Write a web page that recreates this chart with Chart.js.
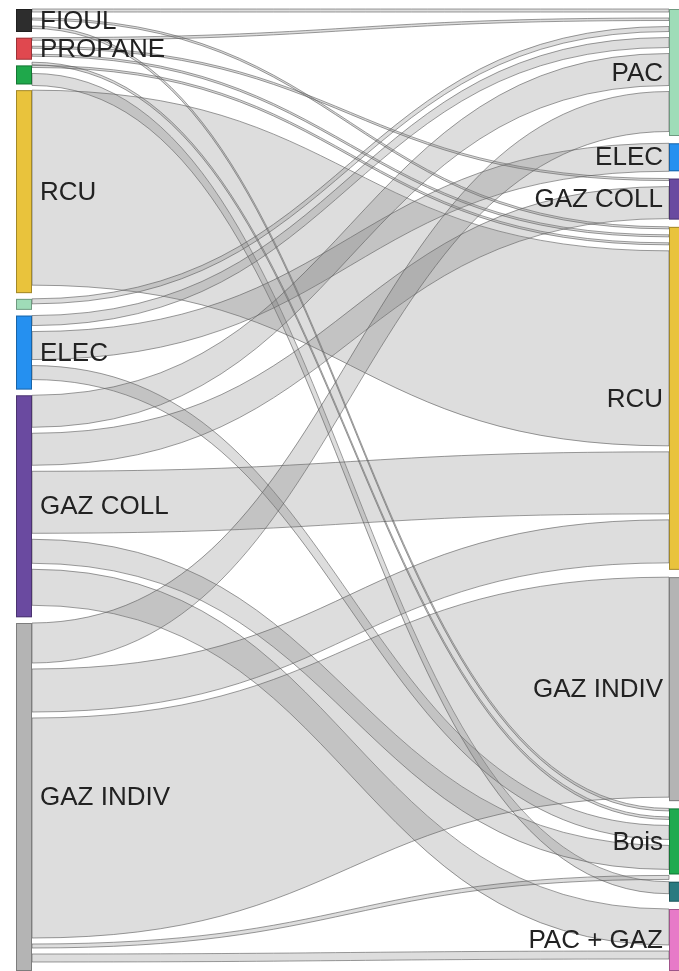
<!doctype html>
<html>
	<head>
		<title>Sankey</title>
		<script src="https://cdn.jsdelivr.net/npm/chart.js@4.4.1/dist/chart.umd.min.js"></script>
		<style>
			body { margin: 0; background: #fff; }
			#wrap { width: 679px; height: 971px; }
		</style>
	</head>
	<body>
		<div id="wrap"><canvas id="canvas"></canvas></div>

	<script>
	// nodes, left column (top to bottom)
	var leftNodes = ["FIOUL", "PROPANE", "Bois", "RCU", "PAC", "ELEC", "GAZ COLL", "GAZ INDIV"];
	var leftSizes = [23, 22, 19, 203, 11, 74, 222, 348];
	var leftColors = ["#2d2d2d", "#e0484f", "#1fa84b", "#e9c33c", "#9fdcb8", "#2590f0", "#6a4aa0", "#b4b4b4"];

	// nodes, right column
	var rightNodes = ["PAC", "ELEC", "GAZ COLL", "RCU", "GAZ INDIV", "Bois", "", "PAC + GAZ"];
	var rightSizes = [127, 28, 41, 343, 224, 66, 20, 62];
	var rightColors = ["#9fdcb8", "#2590f0", "#6a4aa0", "#e9c33c", "#b4b4b4", "#20aa50", "#2a7a80", "#e77ac8"];

	// flows (index in left column -> index in right column)
	var flowFrom   = [0, 0, 0,   1,   1, 1, 1,   2, 2,  3,   4, 5,  5,  5,  6,  6,  6,  6,  6,  7,  7,  7,   7, 7];
	var flowTo     = [0, 3, 5,   0,   2, 3, 5,   3, 6,  3,   0, 0,  1,  5,  0,  2,  3,  5,  7,  0,  3,  4,   5, 7];
	var flowValues = [3, 2, 2.5, 2.5, 2, 2, 2.5, 2, 12, 195, 5, 10, 28, 14, 32, 32, 62, 24, 36, 40, 43, 220, 4, 8];

	var extent = 962;
	var nodeWidth = 16;
	var linkGap = 6;

	function stackTops(sizes) {
		var sum = 0;
		sizes.forEach(function(s){ sum += s; });
		var pad = (extent - sum) / (sizes.length - 1);
		var tops = [], y = 0;
		sizes.forEach(function(s){ tops.push(y); y += s + pad; });
		return tops;
	}

	var sankeyPlugin = {
		id: 'sankey',
		afterDraw: function(chart) {
			var ctx = chart.ctx;
			var xs = chart.scales.x, ys = chart.scales.y;
			var xl = xs.getPixelForValue(0), xr = xs.getPixelForValue(1);
			var leftTops = stackTops(leftSizes), rightTops = stackTops(rightSizes);

			// where each flow leaves / arrives
			var idx = flowValues.map(function(v, i){ return i; });
			var srcY = [], dstY = [];
			leftNodes.forEach(function(n, s){
				var y = leftTops[s];
				idx.filter(function(i){ return flowFrom[i] === s; })
					.sort(function(a, b){ return flowTo[a] - flowTo[b]; })
					.forEach(function(i){ srcY[i] = y; y += flowValues[i] + linkGap; });
			});
			rightNodes.forEach(function(n, t){
				var y = rightTops[t];
				idx.filter(function(i){ return flowTo[i] === t; })
					.sort(function(a, b){ return flowFrom[a] - flowFrom[b]; })
					.forEach(function(i){ dstY[i] = y; y += flowValues[i] + linkGap; });
			});

			ctx.save();
			var xa = xl + nodeWidth, xb = xr, xm = (xa + xb) / 2;
			idx.forEach(function(i){
				var a0 = ys.getPixelForValue(srcY[i]), a1 = ys.getPixelForValue(srcY[i] + flowValues[i]);
				var b0 = ys.getPixelForValue(dstY[i]), b1 = ys.getPixelForValue(dstY[i] + flowValues[i]);
				ctx.beginPath();
				ctx.moveTo(xa, a0);
				ctx.bezierCurveTo(xm, a0, xm, b0, xb, b0);
				ctx.lineTo(xb, b1);
				ctx.bezierCurveTo(xm, b1, xm, a1, xa, a1);
				ctx.closePath();
				ctx.fillStyle = 'rgba(120,120,120,0.25)';
				ctx.fill();
				ctx.lineWidth = 1;
				ctx.strokeStyle = 'rgba(90,90,90,0.6)';
				ctx.stroke();
			});

			// nodes and labels
			ctx.font = '26px "Liberation Sans", Arial, sans-serif';
			ctx.textBaseline = 'middle';
			function drawColumn(names, sizes, tops, colors, x, left) {
				names.forEach(function(name, k){
					var y0 = ys.getPixelForValue(tops[k]), y1 = ys.getPixelForValue(tops[k] + sizes[k]);
					ctx.fillStyle = colors[k];
					ctx.fillRect(x, y0, nodeWidth, y1 - y0);
					ctx.strokeStyle = 'rgba(0,0,0,0.3)';
					ctx.strokeRect(x + 0.5, y0 + 0.5, nodeWidth - 1, y1 - y0 - 1);
					if (name && y1 - y0 >= 21) {
						ctx.fillStyle = '#222';
						ctx.textAlign = left ? 'left' : 'right';
						ctx.fillText(name, left ? x + nodeWidth + 8 : x - 6, (y0 + y1) / 2 + 1);
					}
				});
			}
			drawColumn(leftNodes, leftSizes, leftTops, leftColors, xl, true);
			drawColumn(rightNodes, rightSizes, rightTops, rightColors, xr, false);
			ctx.restore();
		}
	};

	window.onload = function(){
		var ctx = document.getElementById("canvas").getContext("2d");
		window.mySankey = new Chart(ctx, {
			type: 'scatter',
			data: { datasets: [{ data: [] }] },
			options: {
				responsive: true,
				maintainAspectRatio: false,
				animation: false,
				layout: { padding: { left: 16, right: 10, top: 9, bottom: 0 } },
				plugins: { legend: { display: false }, tooltip: { enabled: false } },
				scales: {
					x: { type: 'linear', min: 0, max: 1, display: false },
					y: { type: 'linear', min: 0, max: extent, reverse: true, display: false }
				}
			},
			plugins: [sankeyPlugin]
		});
	};
	</script>
	</body>
</html>
